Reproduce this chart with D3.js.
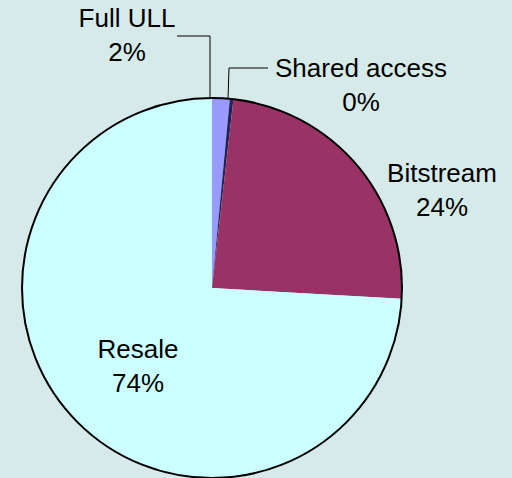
<!DOCTYPE html>
<html>
<head>
<meta charset="utf-8">
<script src="https://cdn.jsdelivr.net/npm/d3@7"></script>
<style>
  html, body { margin: 0; padding: 0; background: #d6ebe9; }
  svg { display: block; }
  text { font-family: "Liberation Sans", Arial, sans-serif; font-size: 26px; fill: #000; }
</style>
</head>
<body>
<div id="chart"></div>
<script>
// slices, clockwise from 12 o'clock
var categories = ['Full ULL', 'Shared access', 'Bitstream', 'Resale'];
var shares = [1.5, 0.3, 24.1, 74.1];
var colors = ['#9999ff', '#222255', '#993366', '#ccffff'];

var width = 512,
  height = 478,
  cx = 212,
  cy = 288,
  radius = 190;

// label centre + baseline of first line, and leader polyline
var labelPos = [
  { x: 127, y: 27, leader: [[177, 36], [210, 36], [210, cy - radius]] },
  { x: 361, y: 77, leader: [[268, 68], [229, 68], [228, cy - radius + 1]] },
  { x: 442, y: 182, leader: null },
  { x: 138, y: 358, leader: null }
];

var svg = d3.select('#chart').append('svg')
  .attr('width', width)
  .attr('height', height);

var pie = d3.pie().sort(null).value(function(d) { return d; });
var arc = d3.arc().innerRadius(0).outerRadius(radius);

var g = svg.append('g').attr('transform', 'translate(' + cx + ',' + cy + ')');

g.selectAll('path')
  .data(pie(shares))
  .enter().append('path')
    .attr('d', arc)
    .attr('fill', function(d, i) { return colors[i]; })
    .attr('stroke', 'none');

g.append('circle')
  .attr('r', radius)
  .attr('fill', 'none')
  .attr('stroke', '#000')
  .attr('stroke-width', 2);

var line = d3.line();

labelPos.forEach(function(p, i) {
  if (p.leader) {
    svg.append('path')
      .attr('d', line(p.leader))
      .attr('fill', 'none')
      .attr('stroke', '#000')
      .attr('stroke-width', 1);
  }
  var t = svg.append('text')
    .attr('text-anchor', 'middle');
  t.append('tspan')
    .attr('x', p.x)
    .attr('y', p.y)
    .text(categories[i]);
  t.append('tspan')
    .attr('x', p.x)
    .attr('y', p.y + 34)
    .text(Math.round(shares[i]) + '%');
});
</script>
</body>
</html>
